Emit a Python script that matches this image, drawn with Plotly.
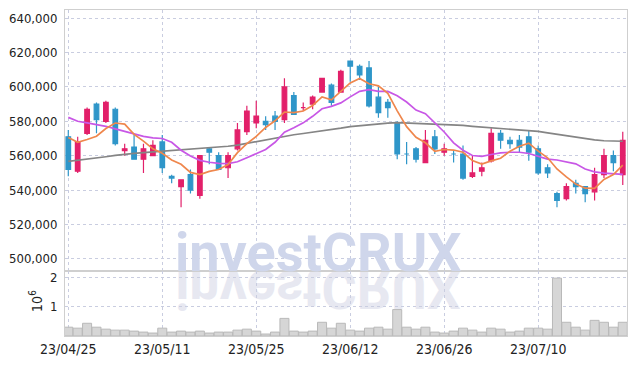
import base64
import plotly.graph_objects as go

dates = ["23/04/25", "23/04/26", "23/04/27", "23/04/28", "23/05/02", "23/05/03", "23/05/04", "23/05/08", "23/05/09", "23/05/10",
         "23/05/11", "23/05/12", "23/05/15", "23/05/16", "23/05/17", "23/05/18", "23/05/19", "23/05/22", "23/05/23", "23/05/24",
         "23/05/25", "23/05/26", "23/05/30", "23/05/31", "23/06/01", "23/06/02", "23/06/05", "23/06/07", "23/06/08", "23/06/09",
         "23/06/12", "23/06/13", "23/06/14", "23/06/15", "23/06/16", "23/06/19", "23/06/20", "23/06/21", "23/06/22", "23/06/23",
         "23/06/26", "23/06/27", "23/06/28", "23/06/29", "23/06/30", "23/07/03", "23/07/04", "23/07/05", "23/07/06", "23/07/07",
         "23/07/10", "23/07/11", "23/07/12", "23/07/13", "23/07/14", "23/07/17", "23/07/18", "23/07/19", "23/07/20", "23/07/21"]

open_ = [571000, 551000, 573000, 590000, 580000, 587000, 563000, 565000, 558000, 560000,
         568000, 548000, 542000, 549000, 537000, 564000, 560000, 553000, 564000, 574000,
         579000, 580000, 583000, 581000, 595000, 588000, 590000, 597000, 601000, 597000,
         615000, 612000, 611000, 594000, 591000, 579000, 561000, 564000, 556000, 571000,
         562000, 561000, 561000, 548000, 551000, 557000, 573000, 569000, 569000, 571000,
         564000, 553000, 538000, 535000, 544000, 542000, 539000, 549000, 560000, 549000]
high = [575000, 571000, 588000, 591000, 592000, 588000, 567000, 572000, 567000, 569000,
        572000, 549000, 546000, 552000, 560000, 565000, 562000, 562000, 579000, 589000,
        592000, 583000, 586000, 605000, 597000, 591000, 595000, 605000, 602000, 610000,
        615000, 613000, 615000, 600000, 593000, 580000, 568000, 565000, 575000, 575000,
        567000, 563000, 566000, 560000, 556000, 576000, 575000, 571000, 572000, 575000,
        566000, 555000, 539000, 544000, 546000, 542000, 553000, 564000, 563000, 574000]
low = [548000, 550000, 572000, 573000, 579000, 566000, 560000, 558000, 550000, 560000,
       550000, 544000, 530000, 538000, 535000, 555000, 552000, 547000, 563000, 572000,
       576000, 575000, 575000, 579000, 584000, 586000, 587000, 597000, 589000, 597000,
       603000, 604000, 588000, 582000, 582000, 558000, 555000, 556000, 556000, 561000,
       560000, 556000, 546000, 547000, 548000, 556000, 564000, 564000, 562000, 557000,
       549000, 547000, 530000, 534000, 538000, 533000, 534000, 547000, 551000, 543000]
close = [552000, 568000, 587000, 581000, 591000, 567000, 564000, 558000, 564000, 566000,
         553000, 547000, 546000, 540000, 560000, 562000, 552000, 560000, 575000, 586000,
         583000, 578000, 580000, 600000, 584000, 588000, 594000, 605000, 591000, 609000,
         612000, 607000, 589000, 585000, 588000, 561000, 561000, 558000, 569000, 564000,
         564000, 561000, 547000, 550000, 553000, 573000, 569000, 567000, 565000, 562000,
         550000, 550000, 534000, 542000, 542000, 538000, 549000, 560000, 556000, 569000]

ma5 = [570600, 567800, 569400, 571300, 575800, 579000, 578400, 572400, 568500, 564000,
       561400, 557500, 555000, 550300, 549000, 550900, 552000, 554900, 561800, 567000,
       571200, 576400, 580300, 585400, 585100, 586000, 589200, 594200, 592500, 597500,
       602300, 604900, 601800, 600600, 596300, 586100, 576900, 570700, 567500, 562600,
       563600, 563300, 562000, 557200, 555100, 557000, 558500, 562600, 565500, 567300,
       562700, 558800, 552300, 547700, 543500, 541100, 541000, 546200, 549000, 554500]
ma20 = [582300, 580000, 579100, 578100, 577100, 575600, 574200, 572700, 571200, 570400,
        570000, 567800, 563200, 559800, 557300, 556200, 555500, 555400, 556500, 558800,
        561000, 563600, 567800, 573700, 576200, 579100, 582900, 587300, 588700, 590700,
        594200, 597400, 598400, 597400, 597400, 594800, 591200, 586500, 584400, 579300,
        573800, 567500, 563200, 560100, 559600, 560700, 561700, 562000, 562000, 561300,
        559800, 558000, 557500, 556500, 555300, 552300, 550600, 549900, 549700, 549100]
ma60 = [556700, 557300, 557900, 558600, 559400, 560200, 560900, 561400, 561800, 562200,
        562600, 562900, 563200, 563600, 564100, 564500, 565000, 565500, 566200, 567200,
        568200, 569200, 570200, 571400, 572200, 572900, 573600, 574300, 575100, 576000,
        576900, 577500, 577900, 578400, 578900, 579200, 579000, 578800, 578600, 578400,
        578200, 578000, 577600, 577100, 576700, 576300, 575900, 575600, 575200, 574800,
        574100, 573300, 572400, 571500, 570600, 569800, 569200, 568700, 568500, 568400]

volume_millions = [0.30, 0.267, 0.433, 0.30, 0.233, 0.20, 0.20, 0.167, 0.133, 0.10,
                   0.267, 0.133, 0.167, 0.133, 0.167, 0.10, 0.133, 0.133, 0.20, 0.233,
                   0.167, 0.067, 0.133, 0.60, 0.167, 0.133, 0.167, 0.467, 0.267, 0.433,
                   0.20, 0.167, 0.267, 0.30, 0.233, 0.90, 0.30, 0.233, 0.30, 0.133,
                   0.10, 0.167, 0.267, 0.20, 0.133, 0.267, 0.233, 0.133, 0.167, 0.267,
                   0.267, 0.233, 1.97, 0.467, 0.30, 0.20, 0.533, 0.467, 0.30, 0.467]

price_ticks = [500000, 520000, 540000, 560000, 580000, 600000, 620000, 640000]
volume_ticks = [1, 2]
date_ticks = dates[::10]
watermark = "investCRUX"

RED = "#E2206A"
BLUE = "#2F96C9"
GRID = "#c9cde0"
LINE = "#cfcfcf"
FONT = "DejaVu Sans Condensed, Liberation Sans Narrow, sans-serif"

fig = go.Figure()
fig.add_trace(go.Candlestick(
    x=dates, open=open_, high=high, low=low, close=close,
    increasing=dict(line=dict(color=RED, width=1.2), fillcolor=RED),
    decreasing=dict(line=dict(color=BLUE, width=1.2), fillcolor=BLUE),
    whiskerwidth=0, xaxis="x", yaxis="y", showlegend=False, hoverinfo="skip"))
for vals, col in [(ma60, "#858585"), (ma20, "#C857E6"), (ma5, "#EF874D")]:
    fig.add_trace(go.Scatter(x=dates, y=vals, mode="lines", line=dict(color=col, width=1.7),
                             xaxis="x", yaxis="y", showlegend=False, hoverinfo="skip"))
fig.add_trace(go.Bar(x=dates, y=volume_millions, xaxis="x2", yaxis="y2", showlegend=False,
                     marker=dict(color="#d6d6d6", line=dict(color="#b9b9b9", width=1)),
                     hoverinfo="skip"))

W, H = 637, 366
ml, mr, mt, mb = 63, 10, 9, 29
pw, ph = W - ml - mr, H - mt - mb

WM_SIZE = 54
# reflection of the watermark (vertically flipped text in an SVG image)
img_w, img_h = 360, 60
svg = (f'<svg xmlns="http://www.w3.org/2000/svg" width="{img_w}" height="{img_h}" viewBox="0 0 {img_w} {img_h}">'
       f'<g transform="scale(1,-1)"><text x="{img_w/2}" y="0" text-anchor="middle" '
       f'font-family="Roboto" font-weight="bold" font-size="{WM_SIZE}" fill="#e7e8f1">{watermark}</text></g></svg>')
src = "data:image/svg+xml;base64," + base64.b64encode(svg.encode()).decode()
wm_cx = 317
fig.add_layout_image(dict(source=src, xref="paper", yref="paper",
                          x=(wm_cx - img_w / 2 - ml) / pw, y=0.2,
                          sizex=img_w / pw, sizey=img_h / ph,
                          xanchor="left", yanchor="top", sizing="stretch", layer="below"))
fig.add_annotation(text=watermark, xref="paper", yref="paper", x=(wm_cx - ml) / pw, y=0.2,
                   xanchor="center", yanchor="bottom", yshift=-15, showarrow=False,
                   font=dict(family="Roboto", size=WM_SIZE, color="#cfd6eb", weight="bold"))
fig.add_annotation(text="10<sup>6</sup>", xref="paper", yref="paper", x=(34 - ml) / pw, y=0.108,
                   textangle=-90, showarrow=False, xanchor="center", yanchor="middle",
                   font=dict(family=FONT, size=14, color="#222"))

axis_common = dict(showgrid=True, gridcolor=GRID, griddash="dot", gridwidth=1,
                   showline=True, linecolor=LINE, linewidth=1, mirror=True, zeroline=False,
                   ticks="", tickfont=dict(family=FONT, size=13, color="#222"))

fig.update_layout(
    width=W, height=H, margin=dict(l=ml, r=mr, t=mt, b=mb),
    paper_bgcolor="white", plot_bgcolor="white", bargap=0.04, showlegend=False,
    xaxis=dict(axis_common, domain=[0, 1], anchor="y", type="category",
               range=[-0.35, 59.45], tickvals=date_ticks, showticklabels=False,
               rangeslider=dict(visible=False)),
    xaxis2=dict(axis_common, domain=[0, 1], anchor="y2", type="category", matches="x",
                range=[-0.35, 59.45], tickvals=date_ticks, ticktext=date_ticks,
                tickfont=dict(family=FONT, size=14, color="#222")),
    yaxis=dict(axis_common, domain=[0.2, 1], anchor="x", range=[493100, 644700],
               tickvals=price_ticks, tickformat=",d", ticklabelstandoff=4),
    yaxis2=dict(axis_common, domain=[0, 0.2], anchor="x2", range=[0, 2.22],
                tickvals=volume_ticks, ticklabelstandoff=4),
)

fig.write_html("out.html")
